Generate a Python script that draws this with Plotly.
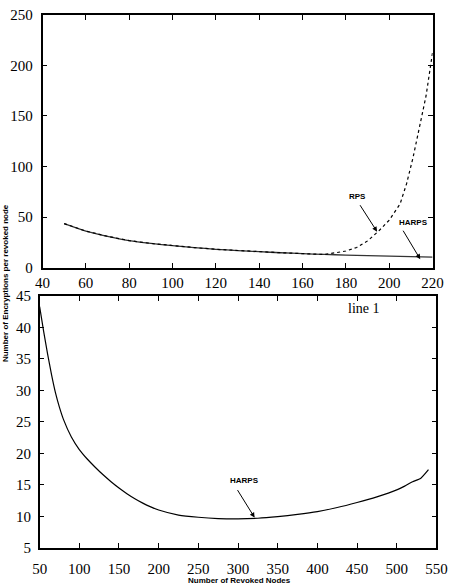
import plotly.graph_objects as go

# ---- data ----
top_x = [50, 60, 70, 80, 90, 100, 110, 120, 130, 140, 150, 160, 170, 180, 190, 200, 210, 220]
harps_top = [43.6, 36.2, 31.0, 26.8, 24.0, 21.8, 19.9, 18.2, 16.9, 15.8, 14.8, 13.9, 13.1, 12.5, 11.9, 11.4, 10.9, 10.4]

rps_x = [50, 60, 70, 80, 90, 100, 110, 120, 130, 140, 150, 160, 170, 175, 180, 185, 190, 195, 200, 205, 208, 211, 214, 217, 220]
rps_top = [43.6, 36.2, 31.0, 26.8, 24.0, 21.8, 19.9, 18.2, 16.9, 15.8, 14.8, 13.9, 13.1, 14.7, 16.5, 20.0, 26.5, 36.0, 47.0, 63.0, 83.0, 109.0, 141.0, 170.0, 213.0]

bot_x = [50, 55, 60, 65, 70, 75, 80, 90, 100, 110, 120, 130, 140, 150, 160, 170, 180, 190, 200, 225, 250, 275, 300, 325, 350, 375, 400, 425, 450, 475, 500, 510, 520, 530, 540]
harps_bot = [43.3, 39.4, 35.8, 32.5, 29.6, 27.3, 25.4, 22.6, 20.6, 19.1, 17.8, 16.6, 15.5, 14.5, 13.6, 12.8, 12.1, 11.5, 11.0, 10.2, 9.85, 9.65, 9.6, 9.7, 9.95, 10.3, 10.75, 11.4, 12.2, 13.1, 14.2, 14.8, 15.5, 16.0, 17.4]

top_xticks = [40, 60, 80, 100, 120, 140, 160, 180, 200, 220]
top_yticks = [0, 50, 100, 150, 200, 250]
bot_xticks = [50, 100, 150, 200, 250, 300, 350, 400, 450, 500, 550]
bot_yticks = [5, 10, 15, 20, 25, 30, 35, 40, 45]

W, H = 457, 585
serif = "Liberation Serif, Times New Roman, serif"
sans = "Liberation Sans, Arial, sans-serif"

fig = go.Figure()
fig.add_trace(go.Scatter(x=top_x, y=harps_top, mode="lines", xaxis="x", yaxis="y",
                         line=dict(color="#333333", width=1.3, shape="spline", smoothing=0.6),
                         showlegend=False))
fig.add_trace(go.Scatter(x=rps_x, y=rps_top, mode="lines", xaxis="x", yaxis="y",
                         line=dict(color="black", width=1.2, dash="3px,3px"), showlegend=False))
fig.add_trace(go.Scatter(x=bot_x, y=harps_bot, mode="lines", xaxis="x2", yaxis="y2",
                         line=dict(color="black", width=1.2, shape="spline", smoothing=0.5),
                         showlegend=False))

axis_common = dict(showline=True, linecolor="black", linewidth=1.5, mirror="ticks",
                   ticks="inside", ticklen=5, tickwidth=1, tickcolor="black",
                   showgrid=False, zeroline=False,
                   tickfont=dict(family=serif, size=15, color="black"))

fig.update_layout(
    width=W, height=H,
    margin=dict(l=0, r=0, t=0, b=0),
    paper_bgcolor="white", plot_bgcolor="white",
    xaxis=dict(domain=[36 / W, 443 / W], range=[40, 220], tickvals=top_xticks,
               anchor="y", ticklabelstandoff=1, **axis_common),
    yaxis=dict(domain=[1 - 267 / H, 1 - 7 / H], range=[0, 250], tickvals=top_yticks,
               anchor="x", ticklabelstandoff=5, **axis_common),
    xaxis2=dict(domain=[33 / W, 447 / W], range=[50, 550], tickvals=bot_xticks,
                anchor="y2", ticklabelstandoff=6, **axis_common),
    yaxis2=dict(domain=[1 - 555 / H, 1 - 296 / H], range=[5, 45], tickvals=bot_yticks,
                anchor="x2", ticklabelstandoff=4, **axis_common),
)

lab_font = dict(family=sans, size=8, color="black")


def label(px, py, text, font, xanchor="center", **kw):
    return dict(x=px / W, y=1 - py / H, xref="paper", yref="paper", text=text,
                showarrow=False, font=font, xanchor=xanchor, yanchor="middle", **kw)


anns = [
    # arrows
    dict(x=194.4, y=35.6, xref="x", yref="y", ax=-18, ay=-28, text="", showarrow=True,
         arrowhead=2, arrowsize=1, arrowwidth=1, arrowcolor="black"),
    dict(x=214.3, y=8.4, xref="x", yref="y", ax=-18, ay=-30, text="", showarrow=True,
         arrowhead=2, arrowsize=1, arrowwidth=1, arrowcolor="black"),
    dict(x=320.9, y=9.8, xref="x2", yref="y2", ax=-18, ay=-29, text="", showarrow=True,
         arrowhead=2, arrowsize=1, arrowwidth=1, arrowcolor="black"),
    # labels
    label(365, 194, "<b>RPS</b>", lab_font),
    label(423, 221, "<b>HARPS</b>", lab_font),
    label(247, 486, "<b>HARPS</b>", lab_font),
    label(371, 309, "line 1", dict(family=serif, size=14, color="black")),
    # axis titles
    label(5, 283, "<b>Number of Encryptions per revoked node</b>",
          dict(family=sans, size=8, color="black"), textangle=-90, xshift=-8),
    label(242, 582, "<b>Number of Revoked Nodes</b>",
          dict(family=sans, size=8, color="black"), yshift=-6),
]
fig.update_layout(annotations=anns)

fig.write_html("out.html")
